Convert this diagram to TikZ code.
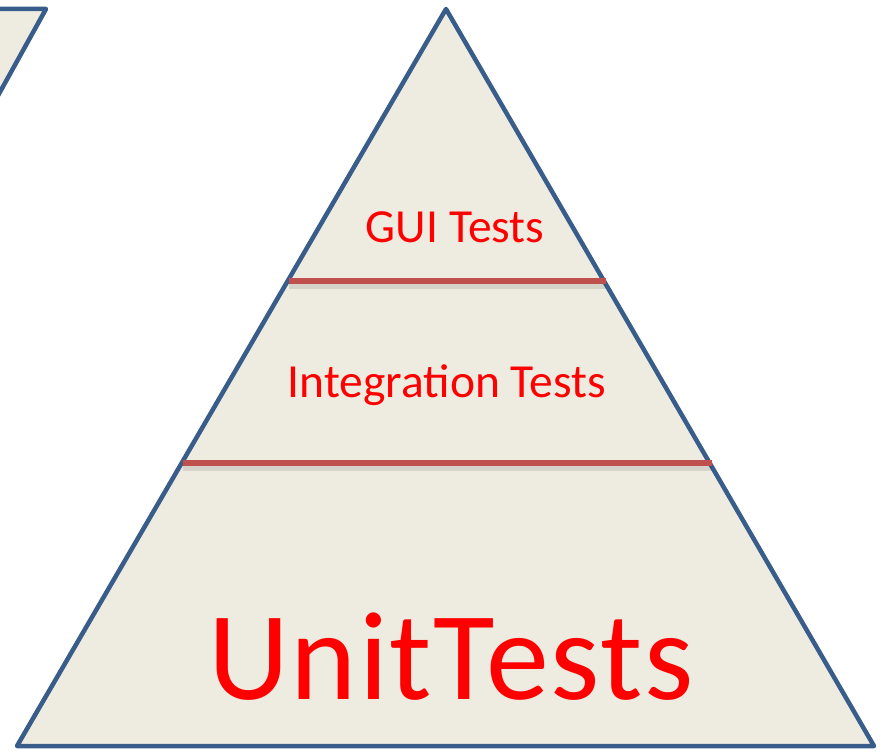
\documentclass[tikz,border=0pt]{standalone}
\usepackage{fontspec}
\setmainfont{Carlito}
\definecolor{outl}{HTML}{385D8A}
\definecolor{beige}{HTML}{EEECE1}
\definecolor{bar}{HTML}{C0504D}
\definecolor{txt}{HTML}{FF0000}
\begin{document}
\begin{tikzpicture}[x=1pt,y=-1pt,
  pyr/.style={draw=outl,fill=beige,line width=4.5pt,line join=round},
  divider/.style={draw=bar,line width=6pt},
  dshadow/.style={draw=black,opacity=0.10,line width=6pt},
  lbl/.style={text=txt,anchor=base,inner sep=0pt}]
\useasboundingbox (0,0) rectangle (885,752);
% partial shape at top-left
\path[pyr] (-10,9) -- (46,9) -- (-5,101);
% pyramid
\coordinate (apex) at (446,9);
\coordinate (bl) at (17,746);
\coordinate (br) at (874,746);
\path[pyr] (apex) -- (br) -- (bl) -- cycle;
% dividers
\coordinate (g1) at (289,281);
\coordinate (g2) at (606,281);
\coordinate (i1) at (183,463);
\coordinate (i2) at (712,463);
\draw[dshadow] ([yshift=-5]g1) -- ([yshift=-5]g2);
\draw[dshadow] ([yshift=-5]i1) -- ([yshift=-5]i2);
\draw[divider] (g1) -- (g2);
\draw[divider] (i1) -- (i2);
% labels
\node[lbl,font=\fontsize{47.5}{47.5}\selectfont] (gui) at (455,242) {GUI Tests};
\node[lbl,font=\fontsize{47.5}{47.5}\selectfont] (integ) at (447,397) {Integration Tests};
\node[lbl,font=\fontsize{126}{126}\selectfont\addfontfeature{LetterSpace=1.5}] (unit) at (451,699) {UnitTests};
\end{tikzpicture}
\end{document}
